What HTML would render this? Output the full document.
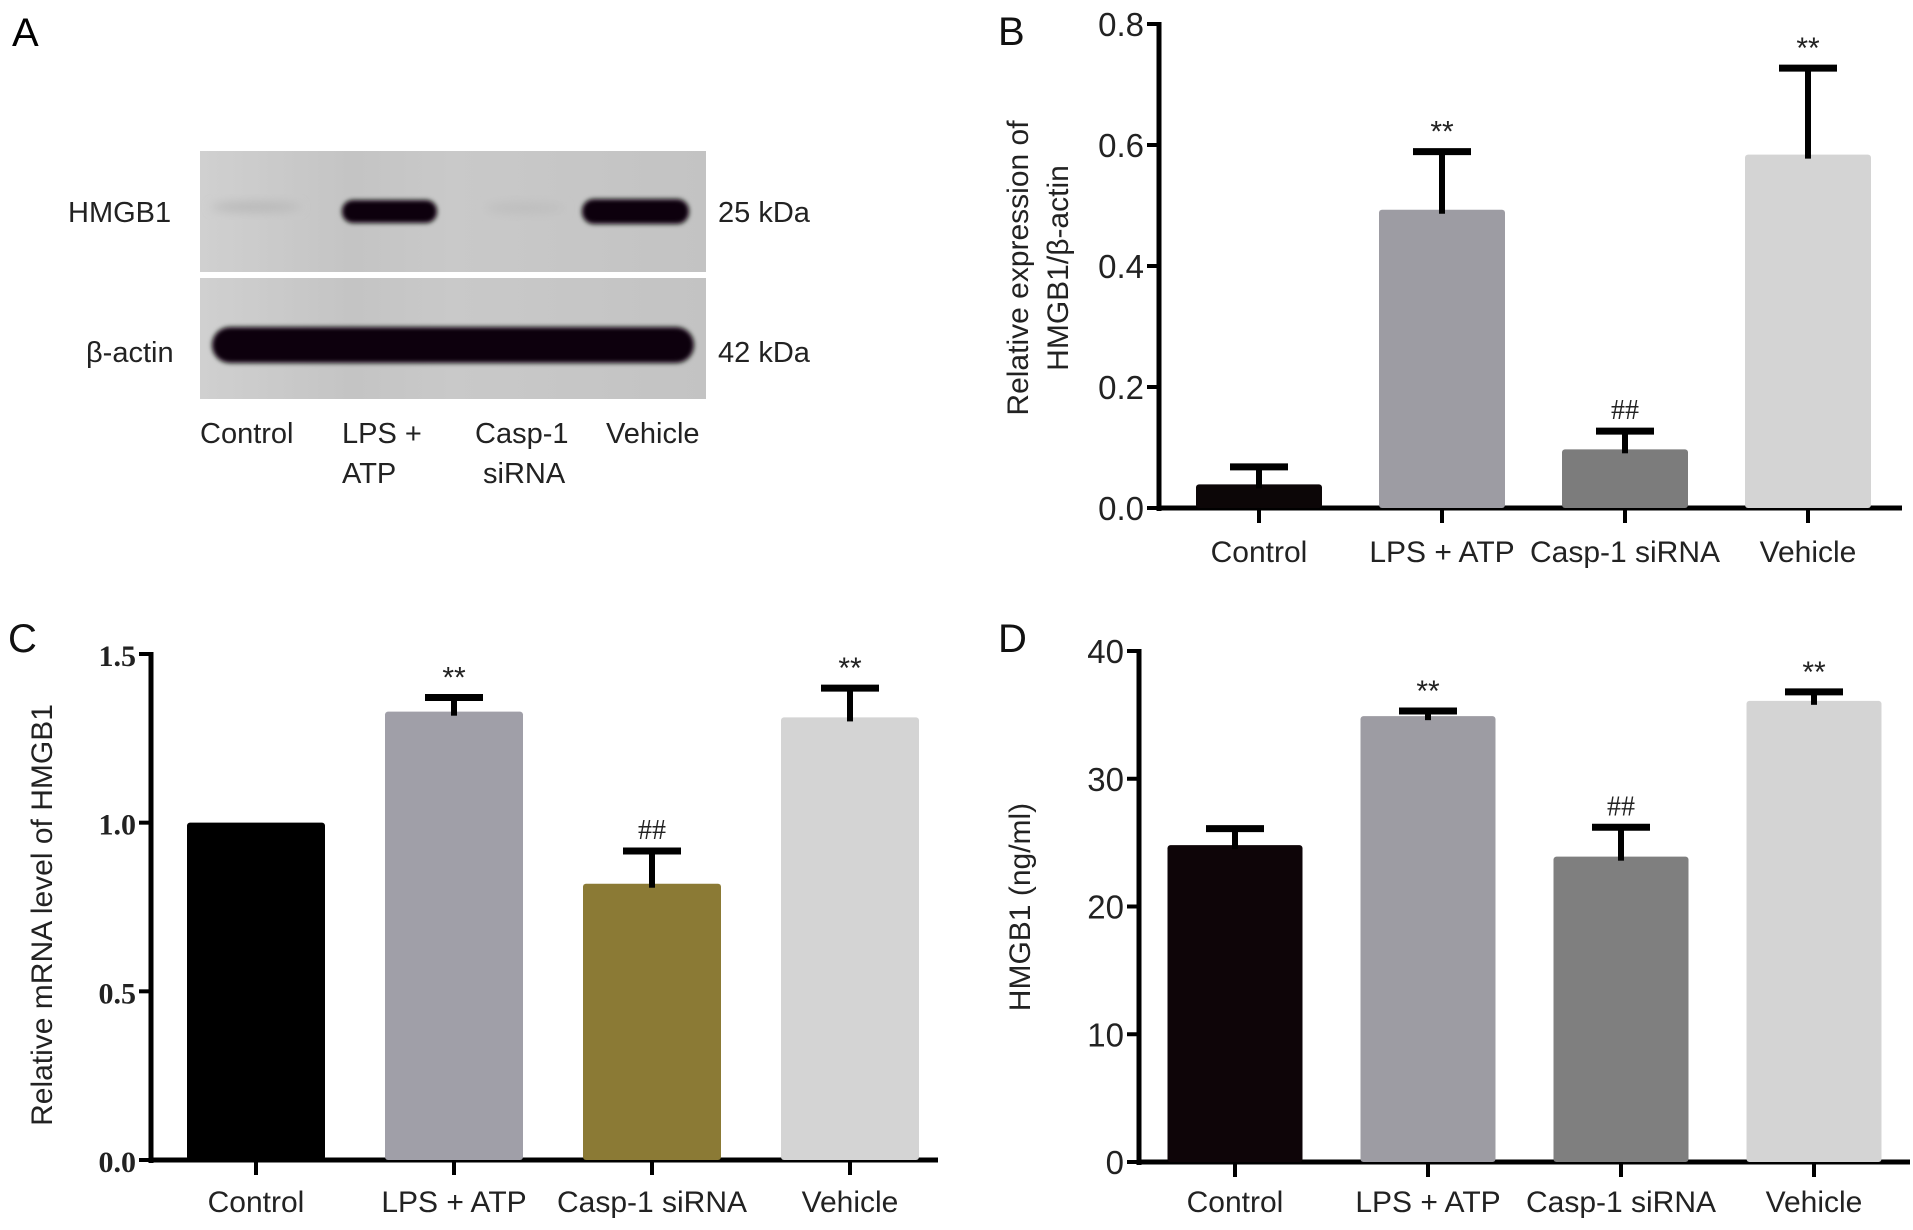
<!DOCTYPE html>
<html><head><meta charset="utf-8"><style>
html,body{margin:0;padding:0;background:#fff;overflow:hidden;}
svg{display:block;font-family:"Liberation Sans",sans-serif;}
</style></head><body>
<svg id="fig" width="1913" height="1230" viewBox="0 0 1913 1230">
<defs>
<filter id="blur6" x="-20%" y="-80%" width="140%" height="260%"><feGaussianBlur stdDeviation="5"/></filter>
<filter id="blur3" x="-20%" y="-80%" width="140%" height="260%"><feGaussianBlur stdDeviation="2.5"/></filter>
<linearGradient id="blotbg" x1="0" x2="1" y1="0" y2="0">
<stop offset="0" stop-color="#d0d0d0"/><stop offset="0.3" stop-color="#c4c4c4"/><stop offset="0.5" stop-color="#c9c9c9"/><stop offset="1" stop-color="#c3c3c3"/></linearGradient>
</defs>
<g>
<text x="12" y="46" font-size="40">A</text>
<rect x="200" y="151" width="506" height="121" fill="url(#blotbg)"/>
<rect x="200" y="278" width="506" height="121" fill="url(#blotbg)"/>
<ellipse cx="256" cy="207" rx="45" ry="5" fill="#b8b8b8" filter="url(#blur6)"/>
<rect x="342" y="200" width="95" height="23" rx="11" fill="#0c0607" filter="url(#blur3)"/>
<ellipse cx="525" cy="208" rx="40" ry="5" fill="#bdbdbd" filter="url(#blur6)"/>
<rect x="582" y="199" width="107" height="25" rx="12" fill="#0c0607" filter="url(#blur3)"/>
<rect x="212" y="327" width="482" height="36" rx="18" fill="#0c0607" filter="url(#blur3)"/>
<g font-size="29" fill="#222">
<text x="68" y="222">HMGB1</text>
<text x="86" y="362">β-actin</text>
<text x="718" y="222">25 kDa</text>
<text x="718" y="362">42 kDa</text>
<text x="200" y="443">Control</text>
<text x="342" y="443">LPS +</text>
<text x="342" y="483">ATP</text>
<text x="475" y="443">Casp-1</text>
<text x="483" y="483">siRNA</text>
<text x="606" y="443">Vehicle</text>
</g>
</g>
<g id="charts"></g>
</svg>
<script>
// Panel B data
const categories = ["Control", "LPS + ATP", "Casp-1 siRNA", "Vehicle"];
const bMeans = [0.039, 0.493, 0.097, 0.584];
const bErrs = [0.029, 0.096, 0.030, 0.143];
const bTicks = [0.0, 0.2, 0.4, 0.6, 0.8];
const bTickLabels = ["0.0", "0.2", "0.4", "0.6", "0.8"];
const bSig = ["", "**", "##", "**"];
// Panel C data
const cMeans = [1.0, 1.329, 0.819, 1.312];
const cErrs = [0, 0.042, 0.097, 0.087];
const cTicks = [0.0, 0.5, 1.0, 1.5];
const cTickLabels = ["0.0", "0.5", "1.0", "1.5"];
const cSig = ["", "**", "##", "**"];
// Panel D data
const dMeans = [24.8, 34.9, 23.9, 36.1];
const dErrs = [1.3, 0.4, 2.3, 0.7];
const dTicks = [0, 10, 20, 30, 40];
const dTickLabels = ["0", "10", "20", "30", "40"];
const dSig = ["", "**", "##", "**"];

const NS = "http://www.w3.org/2000/svg";
const root = document.getElementById("charts");
function mk(tag, attrs, parent, txt) {
  const e = document.createElementNS(NS, tag);
  for (const k in attrs) e.setAttribute(k, attrs[k]);
  if (txt !== undefined) e.textContent = txt;
  parent.appendChild(e);
  return e;
}
function chart(cfg, means, errs, ticks, tickLabels, sig) {
  const g = mk("g", {}, root);
  
  
  const y = v => cfg.y0 - (v - cfg.min) / (cfg.max - cfg.min) * (cfg.y0 - cfg.yTop);
  const xc = i => cfg.xStart + cfg.step * i;
  const ya = mk("line", {x1: cfg.ax, x2: cfg.ax, y1: y(cfg.max) - 2, y2: cfg.y0 + 3, stroke: "#000", "stroke-width": 5}, g);
  
  
  const xa = mk("line", {x1: cfg.ax - 2, x2: cfg.axEnd, y1: cfg.y0, y2: cfg.y0, stroke: "#000", "stroke-width": 5}, g);
  
  
  ticks.forEach((t, i) => {
    mk("line", {x1: cfg.ax - 12, x2: cfg.ax, y1: y(t), y2: y(t), stroke: "#000", "stroke-width": 4}, g);
    const tl = mk("text", {x: cfg.ax - 15, y: y(t) + 12, "text-anchor": "end", "font-size": cfg.tickFs, fill: "#222", "font-family": cfg.tickFont, "font-weight": cfg.tickWeight}, g, tickLabels[i]);
    
    
  });
  means.forEach((m, i) => {
    const cx = xc(i);
    const bar = mk("rect", {x: cx - cfg.bw / 2, y: y(m), width: cfg.bw, height: cfg.y0 - y(m), fill: cfg.colors[i], rx: 3}, g);
    
    
    if (errs[i] > 0) {
      const top = y(m + errs[i]);
      mk("line", {x1: cx, x2: cx, y1: top, y2: y(m) + 4, stroke: "#000", "stroke-width": 6}, g);
      const cap = mk("line", {x1: cx - 29, x2: cx + 29, y1: top, y2: top, stroke: "#000", "stroke-width": 7}, g);
      
      
    }
    if (sig[i]) {
      const isHash = sig[i] === "##";
      const st = mk("text", {x: cx, y: y(m + errs[i]) - (isHash ? 12 : 10), "text-anchor": "middle", "font-size": isHash ? 28 : 30, fill: "#222", "font-family": isHash ? "Liberation Serif, serif" : "Liberation Sans, sans-serif"}, g, sig[i]);
      
      
    }
    mk("line", {x1: cx, x2: cx, y1: cfg.y0, y2: cfg.y0 + 15, stroke: "#000", "stroke-width": 4}, g);
    const xl = mk("text", {x: cx, y: cfg.xlY, "text-anchor": "middle", "font-size": 30, fill: "#222"}, g, categories[i]);
    
    
  });
  cfg.title.forEach((line, k) => {
    const tx = cfg.titleX + k * 40;
    const t = mk("text", {x: tx, y: cfg.titleY, "text-anchor": "middle", "font-size": 30, fill: "#222", transform: `rotate(-90 ${tx} ${cfg.titleY})`}, g, line);
    
    
  });
  const pl = mk("text", {x: cfg.lx, y: cfg.ly, "font-size": 40, fill: "#111"}, g, cfg.label);
  
  
}
chart({name: "panel-b-chart", ax: 1159, axEnd: 1902, y0: 508, yTop: 24, min: 0, max: 0.8, xStart: 1259, step: 183, bw: 126,
  colors: ["#0c0607", "#9d9ca3", "#7c7c7c", "#d4d4d4"], tickFs: 33, tickFont: "Liberation Sans, sans-serif", tickWeight: "normal",
  xlY: 562, title: ["Relative expression of", "HMGB1/β-actin"], titleX: 1028, titleY: 268, label: "B", lx: 998, ly: 45},
  bMeans, bErrs, bTicks, bTickLabels, bSig);
chart({name: "panel-c-chart", ax: 151, axEnd: 938, y0: 1160, yTop: 654, min: 0, max: 1.5, xStart: 256, step: 198, bw: 138,
  colors: ["#000000", "#a09fa8", "#8b7a35", "#d4d4d4"], tickFs: 30, tickFont: "Liberation Serif, serif", tickWeight: "bold",
  xlY: 1212, title: ["Relative mRNA level of HMGB1"], titleX: 52, titleY: 915, label: "C", lx: 8, ly: 652},
  cMeans, cErrs, cTicks, cTickLabels, cSig);
chart({name: "panel-d-chart", ax: 1139, axEnd: 1910, y0: 1162, yTop: 651, min: 0, max: 40, xStart: 1235, step: 193, bw: 135,
  colors: ["#0e0508", "#9d9ca3", "#7f7f7f", "#d4d4d4"], tickFs: 33, tickFont: "Liberation Sans, sans-serif", tickWeight: "normal",
  xlY: 1212, title: ["HMGB1 (ng/ml)"], titleX: 1030, titleY: 907, label: "D", lx: 998, ly: 652},
  dMeans, dErrs, dTicks, dTickLabels, dSig);
</script>
</body></html>
